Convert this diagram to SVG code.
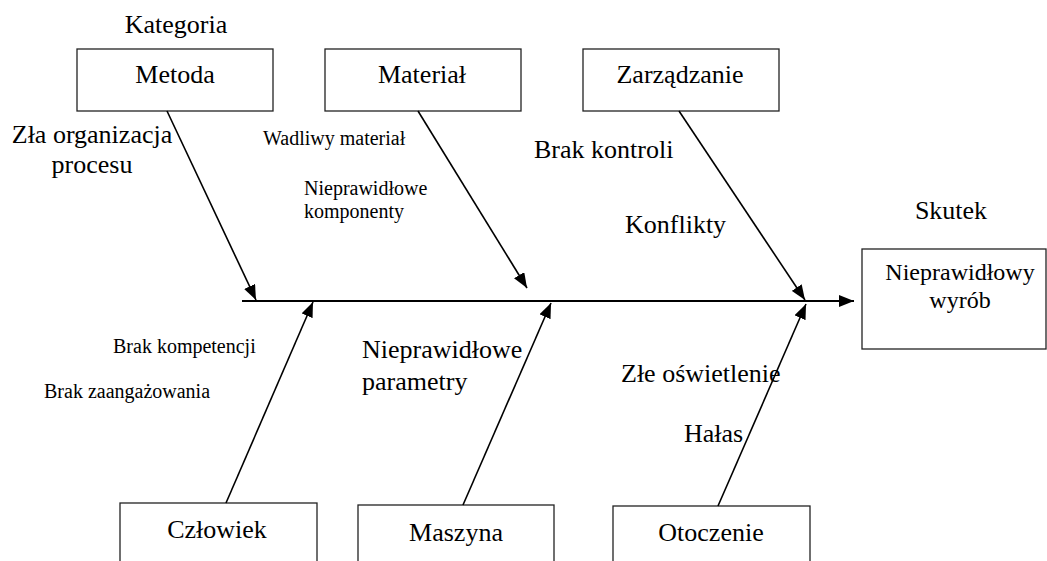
<svg xmlns="http://www.w3.org/2000/svg" width="1047" height="561" viewBox="0 0 1047 561">
<style>
.box{fill:#fff;stroke:#222;stroke-width:1.3}
.t{font-family:"Liberation Serif","Times New Roman",serif;fill:#000}
.big{font-size:26px}
.mid{font-size:24px}
.sm{font-size:20px}
.c{text-anchor:middle}
.ln{stroke:#000;stroke-width:1.6;fill:none;marker-end:url(#ah)}
</style>
<defs>
<marker id="ah" viewBox="0 0 15 12" refX="15" refY="6" markerWidth="15" markerHeight="12" markerUnits="userSpaceOnUse" orient="auto">
<path d="M0,0 L15,6 L0,12 z" fill="#000"/>
</marker>
</defs>
<rect width="1047" height="561" fill="#fff"/>
<text class="t big c" x="176" y="33">Kategoria</text>
<text class="t big c" x="951" y="219">Skutek</text>
<g id="metoda"><rect class="box" x="77" y="49" width="196" height="62"/><text class="t big c" x="175" y="83">Metoda</text></g>
<g id="material"><rect class="box" x="325" y="49" width="196" height="62"/><text class="t big c" x="422" y="83">Materiał</text></g>
<g id="zarzadzanie"><rect class="box" x="583" y="49" width="196" height="62"/><text class="t big c" x="680" y="83">Zarządzanie</text></g>
<g id="skutek"><rect class="box" x="862" y="249" width="184" height="100"/><text class="t mid c" x="960" y="280">Nieprawidłowy</text><text class="t mid c" x="960" y="308">wyrób</text></g>
<g id="czlowiek"><rect class="box" x="120" y="503" width="197" height="70"/><text class="t big c" x="217" y="538">Człowiek</text></g>
<g id="maszyna"><rect class="box" x="358" y="505" width="196" height="70"/><text class="t big c" x="456" y="541">Maszyna</text></g>
<g id="otoczenie"><rect class="box" x="613" y="506" width="197" height="70"/><text class="t big c" x="711" y="541">Otoczenie</text></g>
<g id="connectors">
<line class="ln" x1="242" y1="301" x2="854" y2="301" style="stroke-width:2"/>
<line class="ln" x1="167" y1="111" x2="256" y2="300"/>
<line class="ln" x1="418" y1="111" x2="527" y2="288"/>
<line class="ln" x1="679" y1="111" x2="805" y2="300"/>
<line class="ln" x1="226" y1="503" x2="313" y2="302"/>
<line class="ln" x1="463" y1="505" x2="551" y2="303"/>
<line class="ln" x1="718" y1="506" x2="806" y2="304"/>
</g>
<g id="labels">
<text class="t big c" x="92" y="143">Zła organizacja</text>
<text class="t big c" x="92" y="173">procesu</text>
<text class="t sm" x="263" y="145">Wadliwy materiał</text>
<text class="t sm" x="304" y="195">Nieprawidłowe</text>
<text class="t sm" x="304" y="218">komponenty</text>
<text class="t big" x="534" y="158">Brak kontroli</text>
<text class="t big" x="625" y="233">Konflikty</text>
<text class="t sm" x="113" y="353">Brak kompetencji</text>
<text class="t sm" x="44" y="398">Brak zaangażowania</text>
<text class="t big" x="362" y="358">Nieprawidłowe</text>
<text class="t big" x="362" y="390">parametry</text>
<text class="t big" x="621" y="382">Złe oświetlenie</text>
<text class="t big" x="684" y="442">Hałas</text>
</g>
</svg>
